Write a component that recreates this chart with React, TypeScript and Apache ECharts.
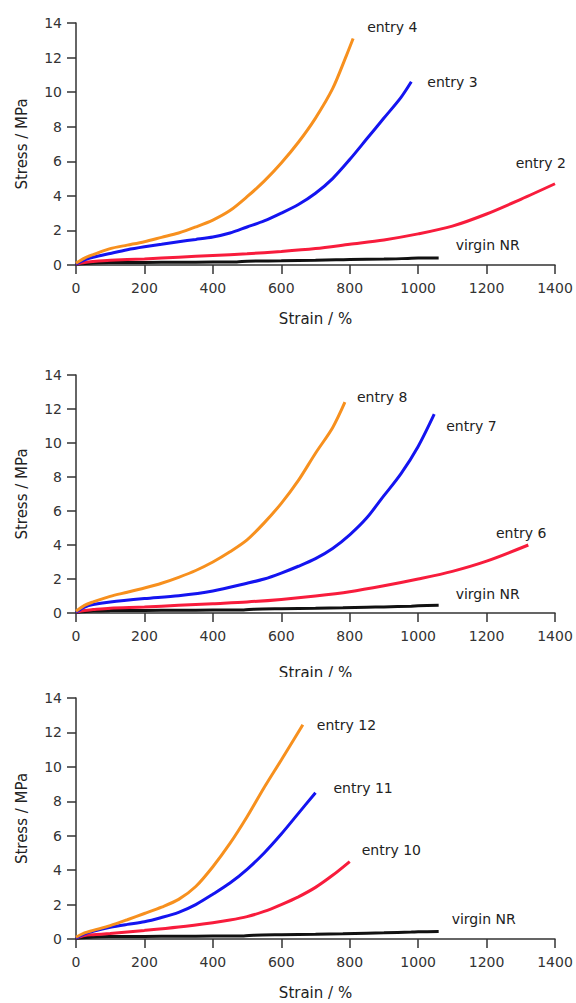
import React, { useEffect, useRef } from "react";
import * as echarts from "echarts";

// ---------- Data ----------
const xTicks = [0, 200, 400, 600, 800, 1000, 1200, 1400];
const yTicks = [0, 2, 4, 6, 8, 10, 12, 14];

// Panel 1
const p1Entry4X = [0, 25, 50, 100, 150, 200, 250, 300, 350, 400, 450, 500, 550, 600, 650, 700, 750, 790, 810];
const p1Entry4Y = [0.1, 0.4, 0.6, 0.95, 1.15, 1.35, 1.6, 1.85, 2.2, 2.6, 3.15, 3.95, 4.85, 5.9, 7.1, 8.5, 10.2, 12.1, 13.1];
const p1Entry3X = [0, 25, 50, 100, 150, 200, 250, 300, 350, 400, 450, 500, 550, 600, 650, 700, 750, 800, 850, 900, 950, 980];
const p1Entry3Y = [0.05, 0.3, 0.45, 0.67, 0.88, 1.05, 1.2, 1.35, 1.48, 1.62, 1.85, 2.2, 2.55, 3.0, 3.5, 4.15, 5.0, 6.1, 7.3, 8.5, 9.7, 10.6];
const p1Entry2X = [0, 25, 50, 100, 200, 300, 400, 500, 600, 700, 800, 900, 1000, 1100, 1200, 1300, 1400];
const p1Entry2Y = [0.05, 0.15, 0.2, 0.27, 0.35, 0.45, 0.55, 0.65, 0.78, 0.95, 1.2, 1.45, 1.8, 2.25, 2.95, 3.8, 4.7];
const p1VirginX = [0, 50, 100, 200, 300, 400, 470, 500, 600, 700, 760, 800, 900, 970, 1000, 1060];
const p1VirginY = [0.05, 0.12, 0.14, 0.15, 0.16, 0.17, 0.18, 0.22, 0.24, 0.27, 0.3, 0.32, 0.34, 0.38, 0.4, 0.4];

// Panel 2
const p2Entry8X = [0, 25, 50, 100, 150, 200, 250, 300, 350, 400, 450, 500, 550, 600, 650, 700, 750, 786];
const p2Entry8Y = [0.1, 0.45, 0.65, 0.98, 1.22, 1.47, 1.75, 2.1, 2.5, 3.0, 3.6, 4.3, 5.3, 6.45, 7.8, 9.4, 10.9, 12.4];
const p2Entry7X = [0, 25, 50, 100, 200, 300, 400, 500, 550, 600, 650, 700, 750, 800, 850, 900, 950, 1000, 1047];
const p2Entry7Y = [0.05, 0.35, 0.5, 0.65, 0.85, 1.02, 1.3, 1.75, 2.0, 2.35, 2.75, 3.2, 3.8, 4.6, 5.6, 6.9, 8.2, 9.8, 11.7];
const p2Entry6X = [0, 25, 50, 100, 200, 300, 400, 500, 600, 700, 800, 900, 1000, 1100, 1200, 1322];
const p2Entry6Y = [0.05, 0.15, 0.2, 0.28, 0.35, 0.45, 0.55, 0.65, 0.8, 1.0, 1.25, 1.6, 2.0, 2.45, 3.05, 4.0];
const p2VirginX = [0, 50, 100, 200, 300, 400, 490, 520, 600, 700, 780, 850, 900, 980, 1000, 1060];
const p2VirginY = [0.05, 0.12, 0.14, 0.15, 0.16, 0.17, 0.18, 0.22, 0.25, 0.28, 0.31, 0.34, 0.36, 0.4, 0.42, 0.45];

// Panel 3
const p3Entry12X = [0, 25, 50, 100, 150, 200, 250, 300, 350, 400, 450, 500, 550, 600, 663];
const p3Entry12Y = [0.1, 0.35, 0.5, 0.78, 1.12, 1.48, 1.85, 2.3, 3.05, 4.2, 5.55, 7.1, 8.8, 10.4, 12.45];
const p3Entry11X = [0, 25, 50, 100, 150, 200, 250, 300, 350, 400, 450, 500, 550, 600, 650, 700];
const p3Entry11Y = [0.05, 0.3, 0.45, 0.68, 0.85, 1.0, 1.25, 1.55, 2.0, 2.6, 3.25, 4.05, 5.0, 6.1, 7.3, 8.5];
const p3Entry10X = [0, 25, 50, 100, 200, 300, 400, 450, 500, 550, 600, 650, 700, 750, 800];
const p3Entry10Y = [0.05, 0.2, 0.25, 0.32, 0.5, 0.7, 0.95, 1.1, 1.3, 1.6, 2.0, 2.45, 3.0, 3.7, 4.5];
const p3VirginX = [0, 50, 100, 200, 300, 400, 490, 520, 600, 700, 780, 850, 900, 980, 1000, 1060];
const p3VirginY = [0.05, 0.12, 0.14, 0.15, 0.16, 0.17, 0.18, 0.22, 0.25, 0.28, 0.31, 0.34, 0.36, 0.4, 0.42, 0.43];

// ---------- Styles ----------
const ORANGE = "#f7901e";
const BLUE = "#1414f0";
const RED = "#f81c3c";
const BLACK = "#111111";
const FONT = "DejaVu Sans";

const zip = (xs: number[], ys: number[]) => xs.map((x, i) => [x, ys[i]]);

const grids = [
  { left: 76, top: 23, width: 479, height: 242 },
  { left: 76, top: 375, width: 479, height: 238 },
  { left: 76, top: 698, width: 479, height: 241 },
];
const xNameGaps = [46, 52, 46];

type LabelCfg = { dx: number; dy: number; alignRight?: boolean };

function lineSeries(
  name: string,
  xs: number[],
  ys: number[],
  color: string,
  idx: number,
  lbl: LabelCfg,
  width = 3
) {
  return {
    type: "line",
    name,
    xAxisIndex: idx,
    yAxisIndex: idx,
    data: zip(xs, ys),
    showSymbol: false,
    symbol: "none",
    smooth: 0.3,
    lineStyle: { color, width },
    z: 3,
    endLabel: {
      show: true,
      formatter: name,
      color: "#222",
      fontSize: 14,
      fontFamily: FONT,
      align: lbl.alignRight ? "right" : "left",
      offset: [lbl.dx, lbl.dy],
    },
  };
}

export default function App() {
  const ref = useRef<HTMLDivElement>(null);
  useEffect(() => {
    if (!ref.current) return;
    const chart = echarts.init(ref.current, undefined, { renderer: "svg" });

    const xAxes = grids.map((_, i) => ({
      type: "value",
      gridIndex: i,
      min: xTicks[0],
      max: xTicks[xTicks.length - 1],
      interval: 200,
      name: "Strain / %",
      nameLocation: "middle",
      nameGap: xNameGaps[i],
      nameTextStyle: { color: "#222", fontSize: 15, fontFamily: FONT },
      axisLine: { show: true, onZero: false, lineStyle: { color: "#333", width: 1.5 } },
      axisTick: { show: true, inside: false, length: 9, lineStyle: { color: "#333", width: 1.5 } },
      axisLabel: {
        color: "#333",
        fontSize: 14,
        fontFamily: FONT,
        margin: 16,
        formatter: (v: number) => String(v),
      },
      splitLine: { show: false },
    }));
    const yAxes = grids.map((_, i) => ({
      type: "value",
      gridIndex: i,
      min: yTicks[0],
      max: yTicks[yTicks.length - 1],
      interval: 2,
      name: "Stress / MPa",
      nameLocation: "middle",
      nameGap: 47,
      nameTextStyle: { color: "#222", fontSize: 15, fontFamily: FONT },
      axisLine: { show: true, onZero: false, lineStyle: { color: "#333", width: 1.5 } },
      axisTick: { show: true, inside: false, length: 9, lineStyle: { color: "#333", width: 1.5 } },
      axisLabel: {
        color: "#333",
        fontSize: 14,
        fontFamily: FONT,
        margin: 14,
        formatter: (v: number) => String(v),
      },
      splitLine: { show: false },
    }));

    const series = [
      lineSeries("virgin NR", p1VirginX, p1VirginY, BLACK, 0, { dx: 9, dy: -13 }),
      lineSeries("entry 2", p1Entry2X, p1Entry2Y, RED, 0, { dx: 3, dy: -21, alignRight: true }),
      lineSeries("entry 3", p1Entry3X, p1Entry3Y, BLUE, 0, { dx: 8, dy: 0 }),
      lineSeries("entry 4", p1Entry4X, p1Entry4Y, ORANGE, 0, { dx: 6, dy: -12 }),

      lineSeries("virgin NR", p2VirginX, p2VirginY, BLACK, 1, { dx: 9, dy: -11 }),
      lineSeries("entry 6", p2Entry6X, p2Entry6Y, RED, 1, { dx: 10, dy: -12, alignRight: true }),
      lineSeries("entry 7", p2Entry7X, p2Entry7Y, BLUE, 1, { dx: 4, dy: 12 }),
      lineSeries("entry 8", p2Entry8X, p2Entry8Y, ORANGE, 1, { dx: 4, dy: -5 }),

      lineSeries("virgin NR", p3VirginX, p3VirginY, BLACK, 2, { dx: 5, dy: -13 }),
      lineSeries("entry 10", p3Entry10X, p3Entry10Y, RED, 2, { dx: 4, dy: -12 }),
      lineSeries("entry 11", p3Entry11X, p3Entry11Y, BLUE, 2, { dx: 10, dy: -5 }),
      lineSeries("entry 12", p3Entry12X, p3Entry12Y, ORANGE, 2, { dx: 6, dy: 0 }),
    ];

    chart.setOption({
      animation: false,
      backgroundColor: "#ffffff",
      grid: grids,
      xAxis: xAxes,
      yAxis: yAxes,
      series,
      graphic: [
        {
          type: "rect",
          left: 0,
          top: 677,
          z: 100,
          shape: { width: 576, height: 10 },
          style: { fill: "#ffffff" },
        },
      ],
    });
    return () => chart.dispose();
  }, []);

  return (
    <div
      ref={ref}
      style={{ position: "absolute", left: 0, top: 0, width: 576, height: 1003 }}
    />
  );
}
